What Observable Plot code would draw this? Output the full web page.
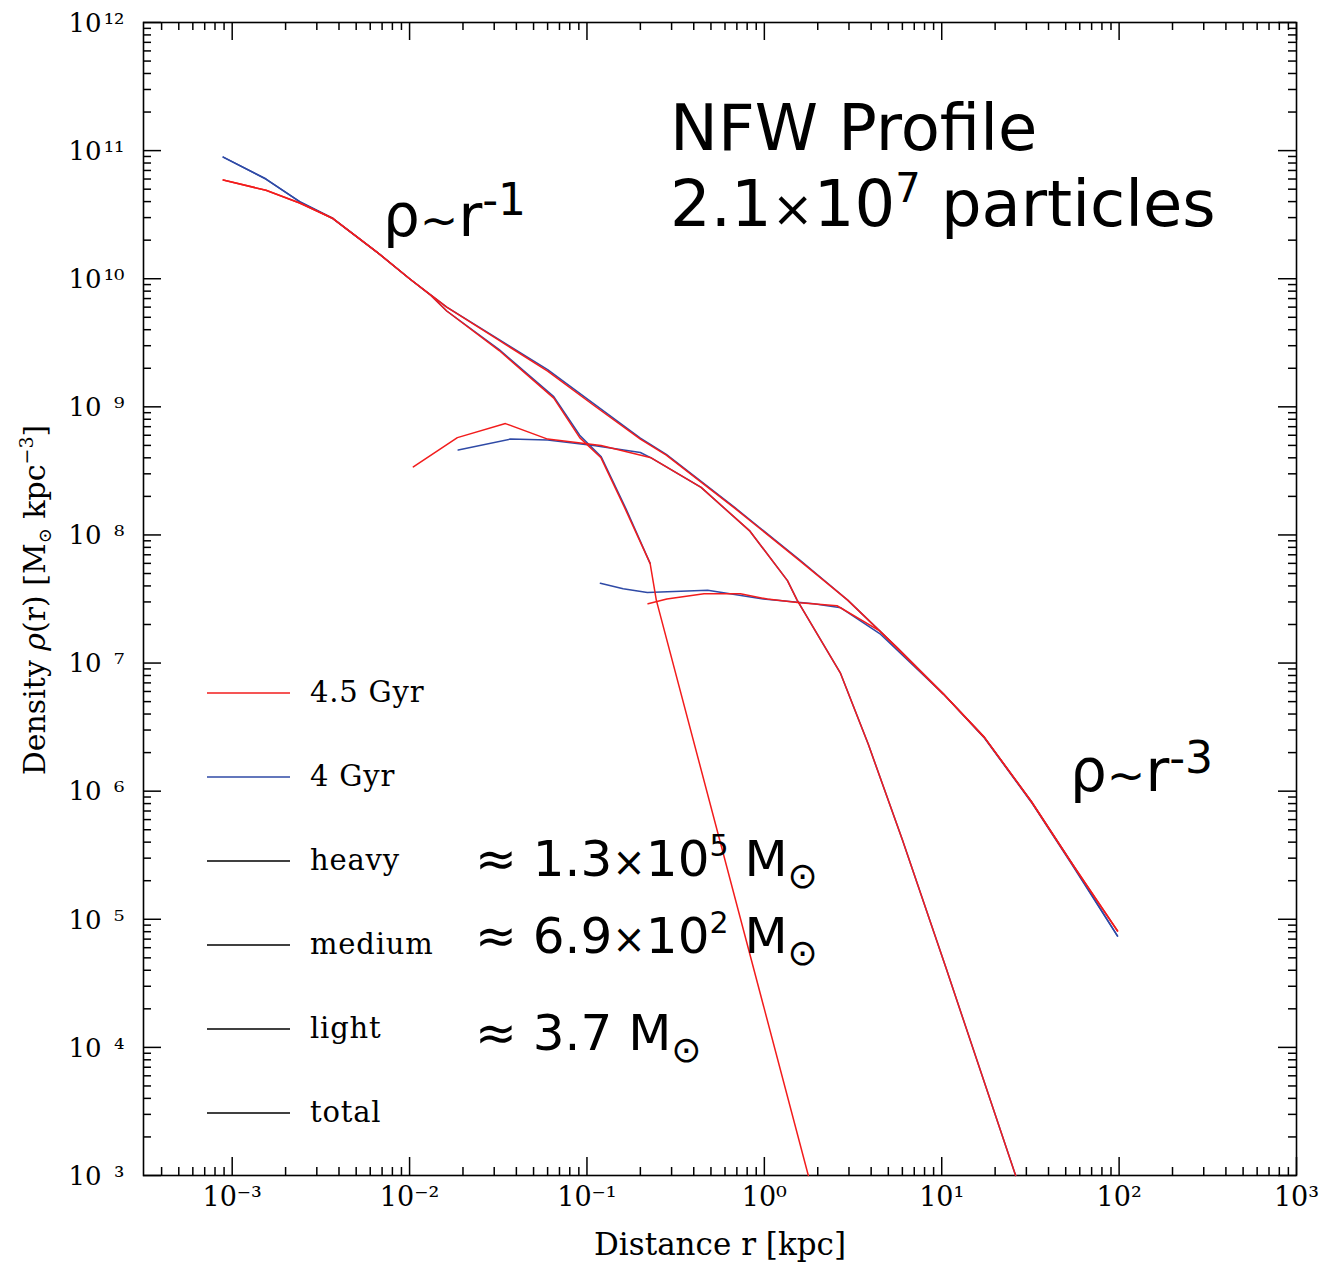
<!DOCTYPE html>
<html>
<head>
<meta charset="utf-8">
<script src="https://cdn.jsdelivr.net/npm/d3@7"></script>
<script src="https://cdn.jsdelivr.net/npm/@observablehq/plot@0.6"></script>
<style>
html, body { margin: 0; padding: 0; background: #fff; }
#chart { width: 1332px; height: 1263px; }
#chart svg { display: block; }
</style>
</head>
<body>
<div id="chart"></div>
<script>
// ---------------- data ----------------
// total density, r in kpc, rho in Msun/kpc^3
const totalR   = [8.9e-4, 1.55e-3, 2.4e-3, 3.7e-3, 6.6e-3, 1.0e-2, 1.62e-2, 3.2e-2, 6.0e-2, 0.11, 0.20, 0.28, 0.68, 1.58, 2.95, 5.6, 10.2, 17.4, 32, 54, 98];
const total45  = [5.9e10, 4.9e10, 3.9e10, 2.95e10, 1.6e10, 1.0e10, 6.0e9, 3.3e9, 1.9e9, 1.02e9, 5.6e8, 4.2e8, 1.62e8, 6.3e7, 3.1e7, 1.32e7, 5.75e6, 2.63e6, 8.3e5, 2.75e5, 8.1e4];
const total40  = [8.9e10, 6.0e10, 4.0e10, 2.95e10, 1.6e10, 1.0e10, 6.0e9, 3.35e9, 1.95e9, 1.05e9, 5.7e8, 4.25e8, 1.64e8, 6.4e7, 3.1e7, 1.32e7, 5.75e6, 2.6e6, 8.2e5, 2.7e5, 7.4e4];

// light particles
const lightR45 = [8.9e-4, 1.55e-3, 2.4e-3, 3.7e-3, 6.6e-3, 1.0e-2, 1.32e-2, 1.62e-2, 3.2e-2, 6.5e-2, 9.1e-2, 0.12, 0.166, 0.227, 0.246, 1.77];
const light45  = [5.9e10, 4.9e10, 3.9e10, 2.95e10, 1.6e10, 1.0e10, 7.4e9, 5.6e9, 2.75e9, 1.17e9, 5.75e8, 4.0e8, 1.55e8, 6.0e7, 3.1e7, 1e3];
const lightR40 = [8.9e-4, 1.55e-3, 2.4e-3, 3.7e-3, 6.6e-3, 1.0e-2, 1.32e-2, 1.62e-2, 3.2e-2, 6.5e-2, 9.1e-2, 0.12, 0.166, 0.227];
const light40  = [8.9e10, 6.0e10, 4.0e10, 2.95e10, 1.6e10, 1.0e10, 7.4e9, 5.6e9, 2.8e9, 1.2e9, 6.0e8, 4.1e8, 1.6e8, 6.0e7];

// medium particles
const mediumR45 = [1.05e-2, 1.86e-2, 3.47e-2, 6.0e-2, 0.12, 0.23, 0.44, 0.83, 1.35, 1.53, 2.69, 3.86, 6.0, 10.6, 26.1];
const medium45  = [3.4e8, 5.75e8, 7.4e8, 5.6e8, 5.0e8, 4.0e8, 2.35e8, 1.07e8, 4.4e7, 3.1e7, 8.3e6, 2.31e6, 4.17e5, 4.12e4, 1e3];
const mediumR40 = [1.88e-2, 3.7e-2, 6.0e-2, 0.109, 0.20, 0.23, 0.44, 0.83, 1.35, 1.53, 2.69, 3.86, 6.0, 10.6, 26.1];
const medium40  = [4.6e8, 5.6e8, 5.5e8, 5.0e8, 4.4e8, 4.0e8, 2.35e8, 1.07e8, 4.4e7, 3.1e7, 8.3e6, 2.31e6, 4.17e5, 4.12e4, 1e3];

// heavy particles
const heavyR45 = [0.221, 0.282, 0.457, 0.733, 1.04, 1.58, 2.57, 4.47, 10.2, 17.4, 32, 54, 98];
const heavy45  = [2.9e7, 3.16e7, 3.47e7, 3.47e7, 3.16e7, 2.95e7, 2.8e7, 1.78e7, 5.75e6, 2.63e6, 8.3e5, 2.75e5, 8.1e4];
const heavyR40 = [0.119, 0.16, 0.219, 0.479, 0.986, 1.9, 2.7, 4.47, 10.2, 17.4, 32, 54, 98];
const heavy40  = [4.2e7, 3.8e7, 3.55e7, 3.7e7, 3.16e7, 2.9e7, 2.7e7, 1.7e7, 5.75e6, 2.63e6, 8.3e5, 2.75e5, 7.4e4];

// ticks and labels
const xMajor = [1e-3, 1e-2, 1e-1, 1, 10, 100, 1000];
const xTickLabels = ["10\u207B\u00B3", "10\u207B\u00B2", "10\u207B\u00B9", "10\u2070", "10\u00B9", "10\u00B2", "10\u00B3"];
const yMajor = [1e3, 1e4, 1e5, 1e6, 1e7, 1e8, 1e9, 1e10, 1e11, 1e12];
const yTickExps = ["\u00B3", "\u2074", "\u2075", "\u2076", "\u2077", "\u2078", "\u2079", "\u00B9\u2070", "\u00B9\u00B9", "\u00B9\u00B2"];
const legendLabels = ["4.5 Gyr", "4 Gyr", "heavy", "medium", "light", "total"];

// ---------------- build ----------------
const RED = "#f21c1c", BLUE = "#2f4aa6";
const series = [
  {age: "4 Gyr", comp: "total", r: totalR, rho: total40},
  {age: "4 Gyr", comp: "light", r: lightR40, rho: light40},
  {age: "4 Gyr", comp: "medium", r: mediumR40, rho: medium40},
  {age: "4 Gyr", comp: "heavy", r: heavyR40, rho: heavy40},
  {age: "4.5 Gyr", comp: "total", r: totalR, rho: total45},
  {age: "4.5 Gyr", comp: "light", r: lightR45, rho: light45},
  {age: "4.5 Gyr", comp: "medium", r: mediumR45, rho: medium45},
  {age: "4.5 Gyr", comp: "heavy", r: heavyR45, rho: heavy45}
];
const rows = series.flatMap(s => s.r.map((r, i) => ({r, rho: s.rho[i], age: s.age, key: s.age + " " + s.comp})));

function minorTicks(lo, hi) {
  const out = [];
  for (let e = Math.floor(Math.log10(lo)); e < Math.ceil(Math.log10(hi)); e++)
    for (let k = 2; k <= 9; k++) { const v = k * 10 ** e; if (v > lo && v < hi) out.push(v); }
  return out;
}
const xDomain = [10 ** -3.5, 1e3], yDomain = [1e3, 1e12];
const xMinor = minorTicks(xDomain[0], xDomain[1]);
const yMinor = minorTicks(yDomain[0], yDomain[1]);

const W = 1332, H = 1263, mL = 143, mR = 36, mT = 22, mB = 88;
const pw = W - mL - mR, ph = H - mT - mB;
const MAJ = 18, MIN = 8;
const tickStyle = {stroke: "#000", strokeWidth: 1.5};

const chart = Plot.plot({
  width: W, height: H,
  marginLeft: mL, marginRight: mR, marginTop: mT, marginBottom: mB,
  style: {fontFamily: "'DejaVu Serif', serif", background: "#fff", color: "#000"},
  x: {type: "log", domain: xDomain, axis: null},
  y: {type: "log", domain: yDomain, axis: null},
  marks: [
    // inward ticks on all four sides
    Plot.tickX(xMajor, {x: d => d, insetTop: ph - MAJ, ...tickStyle}),
    Plot.tickX(xMinor, {x: d => d, insetTop: ph - MIN, ...tickStyle}),
    Plot.tickX(xMajor, {x: d => d, insetBottom: ph - MAJ, ...tickStyle}),
    Plot.tickX(xMinor, {x: d => d, insetBottom: ph - MIN, ...tickStyle}),
    Plot.tickY(yMajor, {y: d => d, insetRight: pw - MAJ, ...tickStyle}),
    Plot.tickY(yMinor, {y: d => d, insetRight: pw - MIN, ...tickStyle}),
    Plot.tickY(yMajor, {y: d => d, insetLeft: pw - MAJ, ...tickStyle}),
    Plot.tickY(yMinor, {y: d => d, insetLeft: pw - MIN, ...tickStyle}),
    Plot.frame({stroke: "#000", strokeWidth: 1.6}),
    // tick labels
    Plot.text(xMajor, {x: d => d, frameAnchor: "bottom", text: (d, i) => xTickLabels[i], dy: 30, fontSize: 27, textAnchor: "middle"}),
    Plot.text(yMajor, {y: d => d, frameAnchor: "left", text: () => "10", dx: -42, dy: 1, fontSize: 26, textAnchor: "end"}),
    Plot.text(yMajor, {y: d => d, frameAnchor: "left", text: (d, i) => yTickExps[i], dx: -19, dy: 1, fontSize: 26, textAnchor: "end"}),
    // curves
    Plot.line(rows.filter(d => d.age === "4 Gyr"), {x: "r", y: "rho", z: "key", stroke: BLUE, strokeWidth: 1.5, strokeLinejoin: "round"}),
    Plot.line(rows.filter(d => d.age === "4.5 Gyr"), {x: "r", y: "rho", z: "key", stroke: RED, strokeWidth: 1.5, strokeLinejoin: "round"})
  ]
});
document.getElementById("chart").appendChild(chart);

// ---------------- text and legend ----------------
const svg = d3.select(chart);
function rich(x, y, family, size, parts, rotate) {
  const t = svg.append("text")
    .attr("font-family", family).attr("font-size", size).attr("fill", "#000")
    .attr("text-anchor", "start");
  if (rotate) t.attr("transform", `translate(${x},${y}) rotate(${rotate})`).attr("text-anchor", "middle");
  else t.attr("x", x).attr("y", y);
  for (const p of parts) {
    const s = t.append("tspan").text(p.t);
    if (p.size) s.attr("font-size", p.size);
    if (p.dy) s.attr("dy", p.dy);
    if (p.italic) s.attr("font-style", "italic");
  }
  return t;
}
const SANS = "'DejaVu Sans', Verdana, sans-serif";
const SERIF = "'DejaVu Serif', serif";

// axis titles
rich(720, 1255, SERIF, 31, [{t: "Distance r [kpc]"}]).attr("text-anchor", "middle");
rich(45, 600, SERIF, 30, [
  {t: "Density "}, {t: "\u03C1", italic: true}, {t: "(r) [M"},
  {t: "\u2299", size: 18, dy: 6}, {t: " kpc", dy: -6}, {t: "\u22123", size: 19, dy: -12}, {t: "]", dy: 12}
], -90);

// annotations
rich(670, 150, SANS, 64, [{t: "NFW Profile"}]);
rich(670, 226, SANS, 64, [{t: "2.1"}, {t: "\u00D7", size: 50}, {t: "10"}, {t: "7", size: 40, dy: -24}, {t: " particles", dy: 24}]);
rich(383, 236, SANS, 58, [{t: "\u03C1"}, {t: "~", size: 46}, {t: "r"}, {t: "-1", size: 44, dy: -21}]);
rich(1070, 791, SANS, 58, [{t: "\u03C1"}, {t: "~", size: 46}, {t: "r"}, {t: "-3", size: 44, dy: -18}]);
const massRows = [
  {y: 876, parts: [{t: "\u2248 1.3"}, {t: "\u00D7", size: 40}, {t: "10"}, {t: "5", size: 30, dy: -20}, {t: " M", dy: 20}, {t: "\u2299", size: 36, dy: 12}]},
  {y: 953, parts: [{t: "\u2248 6.9"}, {t: "\u00D7", size: 40}, {t: "10"}, {t: "2", size: 30, dy: -20}, {t: " M", dy: 20}, {t: "\u2299", size: 36, dy: 12}]},
  {y: 1050, parts: [{t: "\u2248 3.7 M"}, {t: "\u2299", size: 36, dy: 12}]}
];
for (const m of massRows) rich(475, m.y, SANS, 50, m.parts);

// legend
const legendColors = [RED, BLUE, "#000", "#000", "#000", "#000"];
legendLabels.forEach((lab, i) => {
  const y = 693 + i * 84;
  svg.append("line").attr("x1", 207).attr("x2", 290).attr("y1", y).attr("y2", y)
    .attr("stroke", legendColors[i]).attr("stroke-width", 1.6);
  svg.append("text").attr("x", 310).attr("y", y + 9).attr("font-family", SERIF)
    .attr("text-anchor", "start").attr("letter-spacing", 0.8)
    .attr("font-size", 29).attr("fill", "#000").text(lab);
});
</script>
</body>
</html>
